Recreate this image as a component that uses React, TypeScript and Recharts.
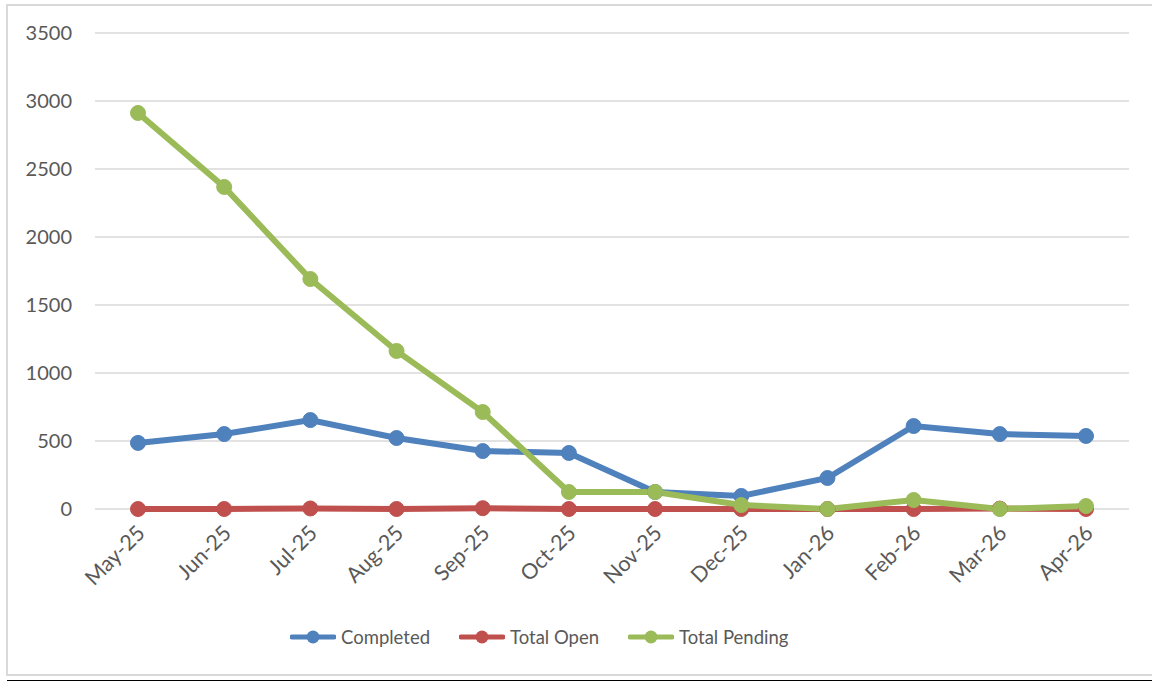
import React from 'react';
import { LineChart, Line, XAxis, YAxis, CartesianGrid, Legend } from 'recharts';

// monthly counts
const months = ['May-25', 'Jun-25', 'Jul-25', 'Aug-25', 'Sep-25', 'Oct-25', 'Nov-25', 'Dec-25', 'Jan-26', 'Feb-26', 'Mar-26', 'Apr-26'];
const completed = [486, 551, 654, 522, 426, 412, 125, 96, 228, 610, 551, 537];
const totalOpen = [0, 0, 4, 0, 6, 0, 0, 0, 0, 0, 3, 0];
const totalPending = [2912, 2368, 1691, 1162, 713, 125, 125, 29, 0, 66, 0, 22];
const yTicks = [0, 500, 1000, 1500, 2000, 2500, 3000, 3500];

const data = months.map((m, i) => ({
  month: m,
  completed: completed[i],
  totalOpen: totalOpen[i],
  totalPending: totalPending[i],
}));

const FONT = 'Lato, sans-serif';
const TEXT = '#595959';

function MonthTick({ x, y, payload }: any) {
  return (
    <g transform={`translate(${x + 3},${y + 20})`}>
      <text transform='rotate(-45)' textAnchor='end' dy='0.35em' fill={TEXT} fontSize={21.5} fontFamily={FONT}>
        {payload.value}
      </text>
    </g>
  );
}

function LegendContent({ payload }: any) {
  return (
    <div style={{ display: 'flex', alignItems: 'center', height: 24, paddingLeft: 290, fontFamily: FONT, fontSize: 18.5, color: TEXT }}>
      {(payload || []).map((p: any, i: number) => (
        <div key={p.value} style={{ display: 'flex', alignItems: 'center', marginLeft: i === 0 ? 0 : 29 }}>
          <svg width={46} height={16} style={{ marginRight: 5 }}>
            <line x1={2} y1={8} x2={44} y2={8} stroke={p.color} strokeWidth={5} strokeLinecap='round' />
            <circle cx={23} cy={8} r={6.5} fill={p.color} />
          </svg>
          <span>{p.value}</span>
        </div>
      ))}
    </div>
  );
}

export default function App() {
  return (
    <div style={{ position: 'absolute', left: 0, top: 0, width: 1152, height: 681, background: '#fff' }}>
      <div style={{ position: 'absolute', left: 6, top: 4, width: 1160, height: 672, border: '2px solid #d9d9d9', boxSizing: 'border-box' }} />
      <div style={{ position: 'absolute', left: 7, top: 680, width: 1150, height: 2, background: '#000' }} />
      <div style={{ position: 'absolute', left: 0, top: 0 }}>
        <LineChart width={1152} height={681} data={data} margin={{ top: 33, right: 23, left: 0, bottom: 32 }}>
          <CartesianGrid vertical={false} stroke='#d9d9d9' strokeWidth={1.5} />
          <XAxis
            dataKey='month'
            axisLine={false}
            tickLine={false}
            tickSize={0}
            tickMargin={0}
            height={116}
            interval={0}
            padding={{ left: 43, right: 43 }}
            tick={<MonthTick />}
          />
          <YAxis
            width={95}
            domain={[0, 3500]}
            ticks={yTicks}
            axisLine={false}
            tickLine={false}
            tickMargin={17}
            tick={{ fill: TEXT, fontSize: 20, fontFamily: FONT }}
          />
          <Legend verticalAlign='bottom' height={24} content={<LegendContent />} />
          <Line name='Completed' dataKey='completed' stroke='#4f81bd' strokeWidth={6} dot={{ r: 7.5, fill: '#4f81bd', stroke: '#4f81bd', strokeWidth: 1 }} isAnimationActive={false} />
          <Line name='Total Open' dataKey='totalOpen' stroke='#c0504d' strokeWidth={6} dot={{ r: 7.5, fill: '#c0504d', stroke: '#c0504d', strokeWidth: 1 }} isAnimationActive={false} />
          <Line name='Total Pending' dataKey='totalPending' stroke='#9bbb59' strokeWidth={6} dot={{ r: 7.5, fill: '#9bbb59', stroke: '#9bbb59', strokeWidth: 1 }} isAnimationActive={false} />
        </LineChart>
      </div>
    </div>
  );
}
